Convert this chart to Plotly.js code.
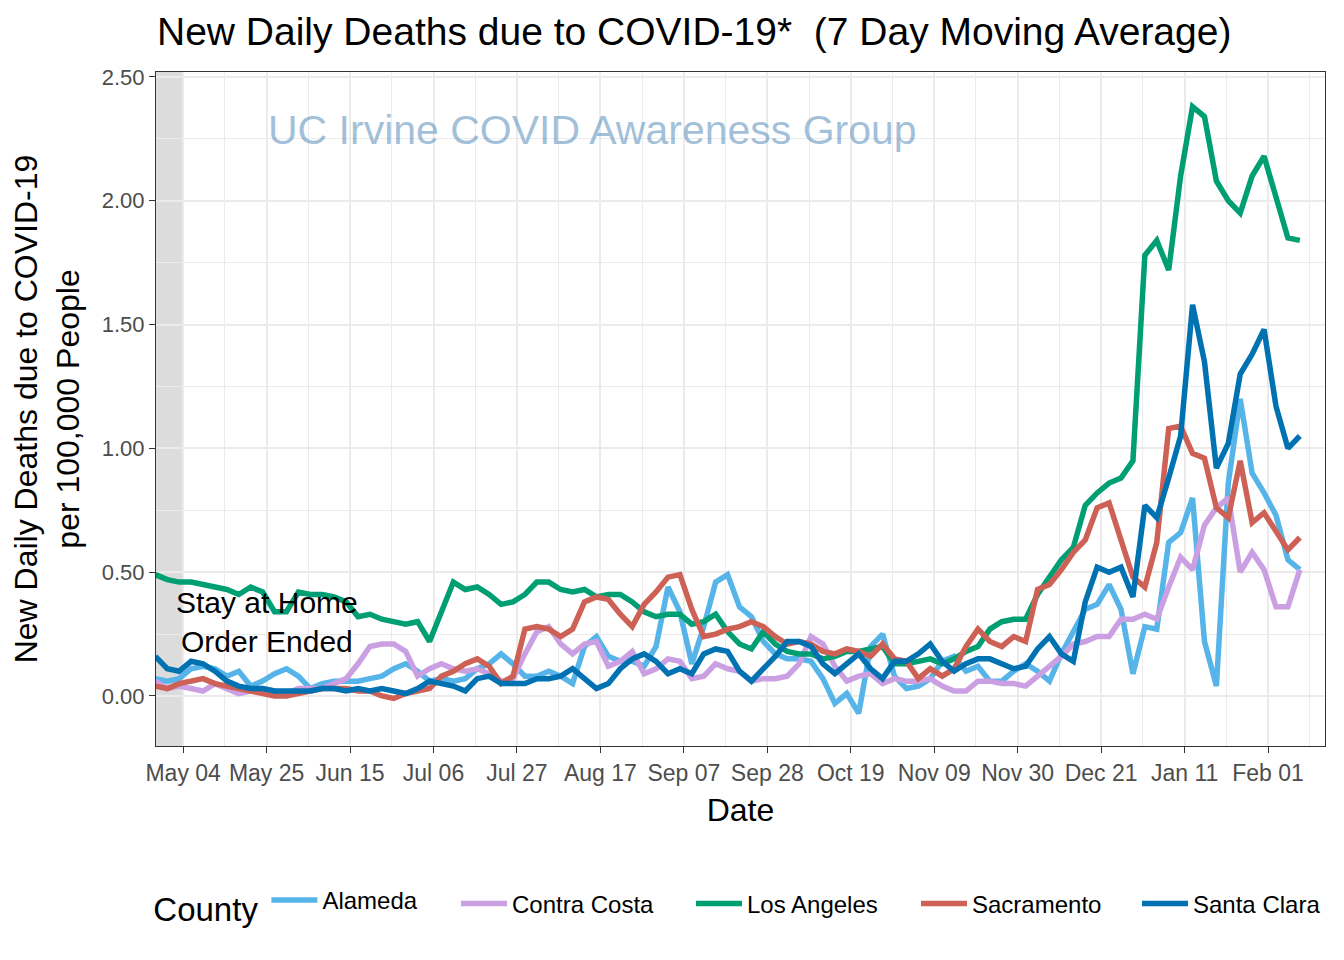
<!DOCTYPE html>
<html>
<head>
<meta charset="utf-8">
<script src="https://cdn.plot.ly/plotly-3.0.1.min.js"></script>
<style>html,body{margin:0;padding:0;background:#fff;}#chart{width:1344px;height:960px;}</style>
</head>
<body>
<div id="chart"></div>
<script>
const dates = [
"2020-04-27","2020-04-30","2020-05-03","2020-05-06","2020-05-09","2020-05-12","2020-05-15","2020-05-18","2020-05-21","2020-05-24",
"2020-05-27","2020-05-30","2020-06-02","2020-06-05","2020-06-08","2020-06-11","2020-06-14","2020-06-17","2020-06-20","2020-06-23",
"2020-06-26","2020-06-29","2020-07-02","2020-07-05","2020-07-08","2020-07-11","2020-07-14","2020-07-17","2020-07-20","2020-07-23",
"2020-07-26","2020-07-29","2020-08-01","2020-08-04","2020-08-07","2020-08-10","2020-08-13","2020-08-16","2020-08-19","2020-08-22",
"2020-08-25","2020-08-28","2020-08-31","2020-09-03","2020-09-06","2020-09-09","2020-09-12","2020-09-15","2020-09-18","2020-09-21",
"2020-09-24","2020-09-27","2020-09-30","2020-10-03","2020-10-06","2020-10-09","2020-10-12","2020-10-15","2020-10-18","2020-10-21",
"2020-10-24","2020-10-27","2020-10-30","2020-11-02","2020-11-05","2020-11-08","2020-11-11","2020-11-14","2020-11-17","2020-11-20",
"2020-11-23","2020-11-26","2020-11-29","2020-12-02","2020-12-05","2020-12-08","2020-12-11","2020-12-14","2020-12-17","2020-12-20",
"2020-12-23","2020-12-26","2020-12-29","2021-01-01","2021-01-04","2021-01-07","2021-01-10","2021-01-13","2021-01-16","2021-01-19",
"2021-01-22","2021-01-25","2021-01-28","2021-01-31","2021-02-03","2021-02-06","2021-02-09"];

const alameda = [
0.07,0.06,0.07,0.11,0.12,0.11,0.08,0.10,0.04,0.06,
0.09,0.11,0.08,0.03,0.05,0.06,0.06,0.06,0.07,0.08,
0.11,0.13,0.10,0.06,0.07,0.06,0.07,0.11,0.13,0.17,
0.13,0.08,0.08,0.10,0.08,0.05,0.20,0.24,0.16,0.14,
0.14,0.12,0.20,0.44,0.34,0.13,0.28,0.46,0.49,0.36,
0.32,0.22,0.17,0.15,0.15,0.14,0.07,-0.03,0.01,-0.07,
0.20,0.25,0.08,0.03,0.04,0.07,0.14,0.16,0.10,0.12,
0.06,0.06,0.10,0.13,0.10,0.06,0.17,0.26,0.35,0.37,
0.45,0.35,0.09,0.28,0.27,0.62,0.66,0.80,0.22,0.04,
0.86,1.20,0.90,0.82,0.73,0.55,0.51];

const contraCosta = [
0.06,0.03,0.04,0.03,0.02,0.05,0.03,0.01,0.02,0.03,
0.02,0.01,0.03,0.03,0.03,0.05,0.07,0.13,0.20,0.21,
0.21,0.18,0.08,0.11,0.13,0.11,0.10,0.11,0.09,0.06,
0.07,0.17,0.26,0.28,0.21,0.17,0.21,0.22,0.12,0.14,
0.18,0.09,0.11,0.15,0.14,0.07,0.08,0.13,0.11,0.10,
0.06,0.07,0.07,0.08,0.13,0.24,0.21,0.12,0.06,0.08,
0.09,0.05,0.07,0.06,0.06,0.07,0.04,0.02,0.02,0.06,
0.06,0.05,0.05,0.04,0.08,0.12,0.16,0.21,0.22,0.24,
0.24,0.31,0.31,0.33,0.31,0.44,0.56,0.51,0.69,0.76,
0.80,0.50,0.58,0.51,0.36,0.36,0.51];

const losAngeles = [
0.49,0.47,0.46,0.46,0.45,0.44,0.43,0.41,0.44,0.42,
0.34,0.34,0.42,0.41,0.41,0.40,0.38,0.32,0.33,0.31,
0.30,0.29,0.30,0.22,0.34,0.46,0.43,0.44,0.41,0.37,
0.38,0.41,0.46,0.46,0.43,0.42,0.43,0.40,0.41,0.41,
0.38,0.34,0.32,0.33,0.33,0.29,0.30,0.33,0.26,0.21,
0.19,0.26,0.21,0.18,0.17,0.17,0.15,0.16,0.18,0.18,
0.19,0.20,0.13,0.13,0.14,0.15,0.13,0.15,0.18,0.20,
0.27,0.30,0.31,0.31,0.41,0.48,0.55,0.60,0.77,0.82,
0.86,0.88,0.95,1.78,1.84,1.72,2.10,2.38,2.34,2.08,
2.00,1.95,2.10,2.18,2.01,1.85,1.84];

const sacramento = [
0.04,0.03,0.05,0.06,0.07,0.05,0.04,0.03,0.02,0.01,
0.00,0.00,0.01,0.02,0.03,0.03,0.03,0.02,0.02,0.00,
-0.01,0.01,0.02,0.03,0.08,0.10,0.13,0.15,0.12,0.05,
0.08,0.27,0.28,0.27,0.24,0.27,0.38,0.40,0.39,0.33,
0.28,0.37,0.42,0.48,0.49,0.35,0.24,0.25,0.27,0.28,
0.30,0.28,0.24,0.21,0.22,0.21,0.18,0.17,0.19,0.18,
0.16,0.21,0.15,0.14,0.07,0.11,0.08,0.11,0.20,0.27,
0.22,0.20,0.24,0.22,0.43,0.45,0.51,0.58,0.63,0.76,
0.78,0.63,0.48,0.44,0.62,1.08,1.09,0.98,0.96,0.76,
0.72,0.95,0.70,0.74,0.66,0.59,0.64];

const santaClara = [
0.16,0.11,0.10,0.14,0.13,0.10,0.06,0.04,0.03,0.03,
0.02,0.02,0.02,0.02,0.03,0.03,0.02,0.03,0.02,0.03,
0.02,0.01,0.03,0.06,0.05,0.04,0.02,0.07,0.08,0.05,
0.05,0.05,0.07,0.07,0.08,0.11,0.07,0.03,0.05,0.11,
0.15,0.17,0.14,0.09,0.11,0.09,0.17,0.19,0.18,0.10,
0.06,0.11,0.16,0.22,0.22,0.20,0.13,0.09,0.13,0.17,
0.11,0.07,0.14,0.14,0.17,0.21,0.14,0.10,0.13,0.15,
0.15,0.13,0.11,0.12,0.19,0.24,0.17,0.14,0.38,0.52,
0.50,0.52,0.40,0.77,0.72,0.88,1.05,1.58,1.35,0.92,
1.02,1.30,1.38,1.48,1.17,1.00,1.05];

const seriesNames = ["Alameda","Contra Costa","Los Angeles","Sacramento","Santa Clara"];
const seriesValues = [alameda, contraCosta, losAngeles, sacramento, santaClara];
const seriesColors = ["#56B4E9","#CBA0E3","#009E73","#CD6155","#0072B2"];
const legendIds = ["legend","legend2","legend3","legend4","legend5"];

const yTickVals = [0, 0.5, 1, 1.5, 2, 2.5];
const yTickText = ["0.00","0.50","1.00","1.50","2.00","2.50"];

const FONT = "Liberation Sans, Arial, sans-serif";

const traces = seriesNames.map((name, i) => ({
  type: "scatter",
  mode: "lines",
  name: name,
  x: dates,
  y: seriesValues[i],
  legend: legendIds[i],
  line: {color: seriesColors[i], width: 5.5},
  hoverinfo: "x+y+name"
}));

const xRange = ["2020-04-27 04:00", "2021-02-15 08:00"];
const DAY = 86400000;

const legendItemFont = {family: FONT, size: 24, color: "#000000"};
function itemLegend(xPaper, yPaper) {
  return {orientation: "h", x: xPaper, xanchor: "left", y: yPaper, yanchor: "middle",
          font: legendItemFont, itemwidth: 46, bgcolor: "rgba(0,0,0,0)"};
}

const layout = {
  width: 1344,
  height: 960,
  paper_bgcolor: "#FFFFFF",
  plot_bgcolor: "#FFFFFF",
  margin: {l: 156, r: 19, t: 72, b: 214, pad: 0},
  font: {family: FONT, color: "#000000"},
  title: {
    text: "New Daily Deaths due to COVID-19*  (7 Day Moving Average)",
    font: {family: FONT, size: 39, color: "#000000"},
    x: 157/1344, xanchor: "left", xref: "container",
    y: 1 - 31/960, yanchor: "middle", yref: "container"
  },
  xaxis: {
    type: "date",
    range: xRange,
    tick0: "2020-05-04",
    dtick: 21*DAY,
    tickformat: "%b %d",
    ticks: "outside",
    ticklen: 6,
    tickcolor: "#333333",
    tickwidth: 1,
    tickfont: {family: FONT, size: 23, color: "#4D4D4D"},
    showgrid: true,
    gridcolor: "#EBEBEB",
    gridwidth: 2,
    minor: {dtick: 10.5*DAY, tick0: "2020-05-04", showgrid: true, gridcolor: "#EBEBEB", gridwidth: 1},
    showline: true, linecolor: "#333333", linewidth: 1, mirror: true,
    zeroline: false,
    title: {text: "Date", font: {family: FONT, size: 32, color: "#000000"}, standoff: 14},
    automargin: false
  },
  yaxis: {
    range: [-0.202, 2.520],
    tickvals: yTickVals,
    ticktext: yTickText,
    ticks: "outside",
    ticklen: 6,
    tickcolor: "#333333",
    tickwidth: 1,
    tickfont: {family: FONT, size: 22, color: "#4D4D4D"},
    showgrid: true,
    gridcolor: "#EBEBEB",
    gridwidth: 2,
    minor: {dtick: 0.25, tick0: 0, showgrid: true, gridcolor: "#EBEBEB", gridwidth: 1},
    showline: true, linecolor: "#333333", linewidth: 1, mirror: true,
    zeroline: false,
    title: {text: "New Daily Deaths due to COVID-19<br>per 100,000 People", font: {family: FONT, size: 32, color: "#000000"}, standoff: 12},
    automargin: false
  },
  shapes: [{
    type: "rect", xref: "x", yref: "paper",
    x0: xRange[0], x1: "2020-05-04", y0: 0, y1: 1,
    fillcolor: "#DCDCDC", line: {width: 0}, layer: "below"
  }],
  annotations: [
    {
      x: "2020-05-25", y: 0.30, xref: "x", yref: "y",
      text: "Stay at Home<br>Order Ended", showarrow: false,
      font: {family: FONT, size: 30, color: "#000000"}, align: "center"
    },
    {
      x: "2020-08-15", y: 2.286, xref: "x", yref: "y",
      text: "UC Irvine COVID Awareness Group", showarrow: false,
      font: {family: FONT, size: 41, color: "rgba(70,130,180,0.5)"}
    }
  ],
  legend: Object.assign(itemLegend(-0.004, -0.235), {
    title: {text: "County", font: {family: FONT, size: 33, color: "#000000"}, side: "left"}
  }),
  legend2: itemLegend((456 - 156) / 1169, -0.2344),
  legend3: itemLegend((691 - 156) / 1169, -0.2344),
  legend4: itemLegend((916 - 156) / 1169, -0.2344),
  legend5: itemLegend((1137 - 156) / 1169, -0.2344),
  showlegend: true
};

Plotly.newPlot("chart", traces, layout, {displayModeBar: false, staticPlot: true});
</script>
</body>
</html>
